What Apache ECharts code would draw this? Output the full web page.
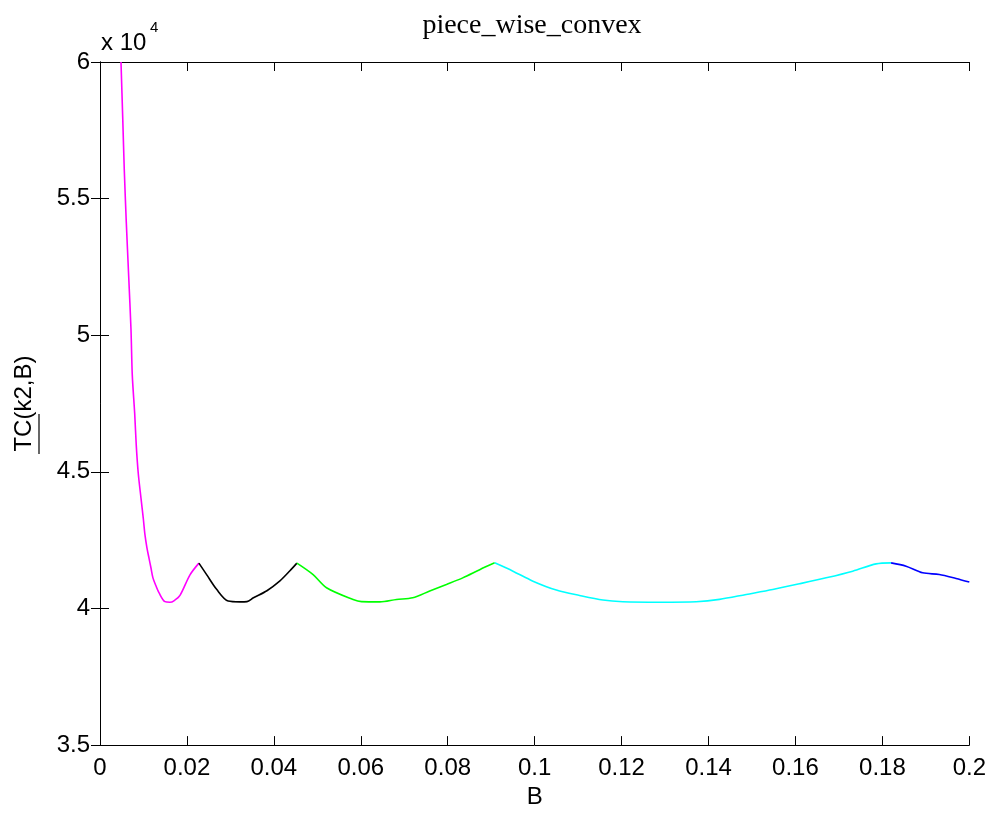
<!DOCTYPE html>
<html>
<head>
<meta charset="utf-8">
<script src="https://cdn.jsdelivr.net/npm/echarts@6/dist/echarts.min.js"></script>
<style>html,body{margin:0;padding:0;background:#fff;}#chart{width:989px;height:814px;}</style>
</head>
<body>
<div id="chart"></div>
<script>
// ---- data ----
const chartTitle = 'piece_wise_convex';
const xName = 'B';
const yName = 'TC(k2,B)';
const xTicks = [0, 0.02, 0.04, 0.06, 0.08, 0.1, 0.12, 0.14, 0.16, 0.18, 0.2];
const yTicks = [35000, 40000, 45000, 50000, 55000, 60000];

const magentaB  = [0.00483,0.00522,0.00559,0.00605,0.0066,0.00713,0.00743,0.00798,0.00834,0.0088,0.00943,0.00995,0.01034,0.0108,0.01126,0.01172,0.01218,0.01287,0.01356,0.01494,0.0161,0.017,0.0184,0.0207,0.02275];
const magentaTC = [60000,58000,56040,54130,52160,50210,48530,47140,45980,44950,44040,43310,42700,42220,41850,41490,41120,40830,40580,40250,40230,40280,40480,41230,41660];

const blackB  = [0.02275,0.02453,0.02683,0.02949,0.0322,0.0338,0.0353,0.0384,0.0414,0.0437,0.0453];
const blackTC = [41660,41240,40700,40270,40240,40250,40390,40650,41010,41380,41660];

const greenB  = [0.0453,0.04903,0.05211,0.05823,0.06016,0.0644,0.06821,0.07195,0.07586,0.0797,0.08345,0.08736,0.0908];
const greenTC = [41660,41240,40760,40330,40250,40240,40330,40390,40640,40880,41120,41420,41670];

const cyanB  = [0.0908,0.09501,0.09961,0.10499,0.11034,0.1157,0.1203,0.12874,0.13717,0.14253,0.14866,0.15478,0.16092,0.16706,0.17318,0.17855,0.1820];
const cyanTC = [41670,41366,41000,40674,40477,40310,40248,40230,40248,40332,40514,40696,40904,41122,41366,41632,41670];

const blueB  = [0.1820,0.18545,0.18926,0.1931,0.19694,0.2];
const blueTC = [41670,41549,41305,41243,41097,40966];

const seriesDefs = [
  {name:'k1', b: magentaB, tc: magentaTC, color:'#ff00ff'},
  {name:'k2', b: blackB,   tc: blackTC,   color:'#000000'},
  {name:'k3', b: greenB,   tc: greenTC,   color:'#00ff00'},
  {name:'k4', b: cyanB,    tc: cyanTC,    color:'#00ffff'},
  {name:'k5', b: blueB,    tc: blueTC,    color:'#0000ff'}
];

const FONT = 'Liberation Sans';
const chart = echarts.init(document.getElementById('chart'), null, {renderer:'canvas'});

const xMin = xTicks[0], xMax = xTicks[xTicks.length-1], xInt = xTicks[1]-xTicks[0];
const yMin = yTicks[0], yMax = yTicks[yTicks.length-1], yInt = yTicks[1]-yTicks[0];

function fmtX(v){ return String(Math.round(v*100)/100); }
function fmtY(v){ return String(Math.round(v/1000)/10); }

const axisCommon = {
  axisLine:{show:true, lineStyle:{color:'#000', width:1}},
  axisTick:{show:true, inside:true, length:9, lineStyle:{color:'#000', width:1}},
  splitLine:{show:false}
};

chart.setOption({
  animation:false,
  backgroundColor:'#ffffff',
  grid:{left:100, right:19, top:62, bottom:66, containLabel:false},
  xAxis:[
    Object.assign({type:'value', min:xMin, max:xMax, interval:xInt, position:'bottom',
      name:xName, nameLocation:'middle', nameGap:37,
      nameTextStyle:{fontFamily:FONT, fontSize:24, color:'#000'},
      axisLabel:{show:true, margin:11, fontFamily:FONT, fontSize:24, color:'#000', formatter:fmtX}}, axisCommon),
    Object.assign({type:'value', min:xMin, max:xMax, interval:xInt, position:'top',
      axisLabel:{show:false}}, axisCommon)
  ],
  yAxis:[
    Object.assign({type:'value', min:yMin, max:yMax, interval:yInt, position:'left',
      name:yName, nameLocation:'middle', nameGap:64,
      nameTextStyle:{fontFamily:FONT, fontSize:24, color:'#000'},
      axisLabel:{show:true, margin:10, fontFamily:FONT, fontSize:24, color:'#000', formatter:fmtY}}, axisCommon),
    Object.assign({type:'value', min:yMin, max:yMax, interval:yInt, position:'right',
      axisLabel:{show:false}}, axisCommon)
  ],
  series: seriesDefs.map(s => ({
    type:'line', name:s.name, xAxisIndex:0, yAxisIndex:0,
    data: s.b.map((b,i)=>[b, s.tc[i]]),
    showSymbol:false, symbol:'none', smooth:0.3, clip:true,
    lineStyle:{color:s.color, width:1.6},
    itemStyle:{color:s.color}
  })),
  graphic:[
    {type:'text', x:532, y:26, style:{text:chartTitle, font:'28px "Liberation Serif"', fill:'#000', align:'center', verticalAlign:'middle'}},
    {type:'text', x:101, y:43, style:{text:'x 10', font:'24px "Liberation Sans"', fill:'#000', align:'left', verticalAlign:'middle'}},
    {type:'text', x:150, y:28, style:{text:'4', font:'15px "Liberation Sans"', fill:'#000', align:'left', verticalAlign:'middle'}},
    {type:'line', shape:{x1:39, y1:414, x2:39, y2:454}, style:{stroke:'#000', lineWidth:1.2}}
  ]
});
</script>
</body>
</html>
